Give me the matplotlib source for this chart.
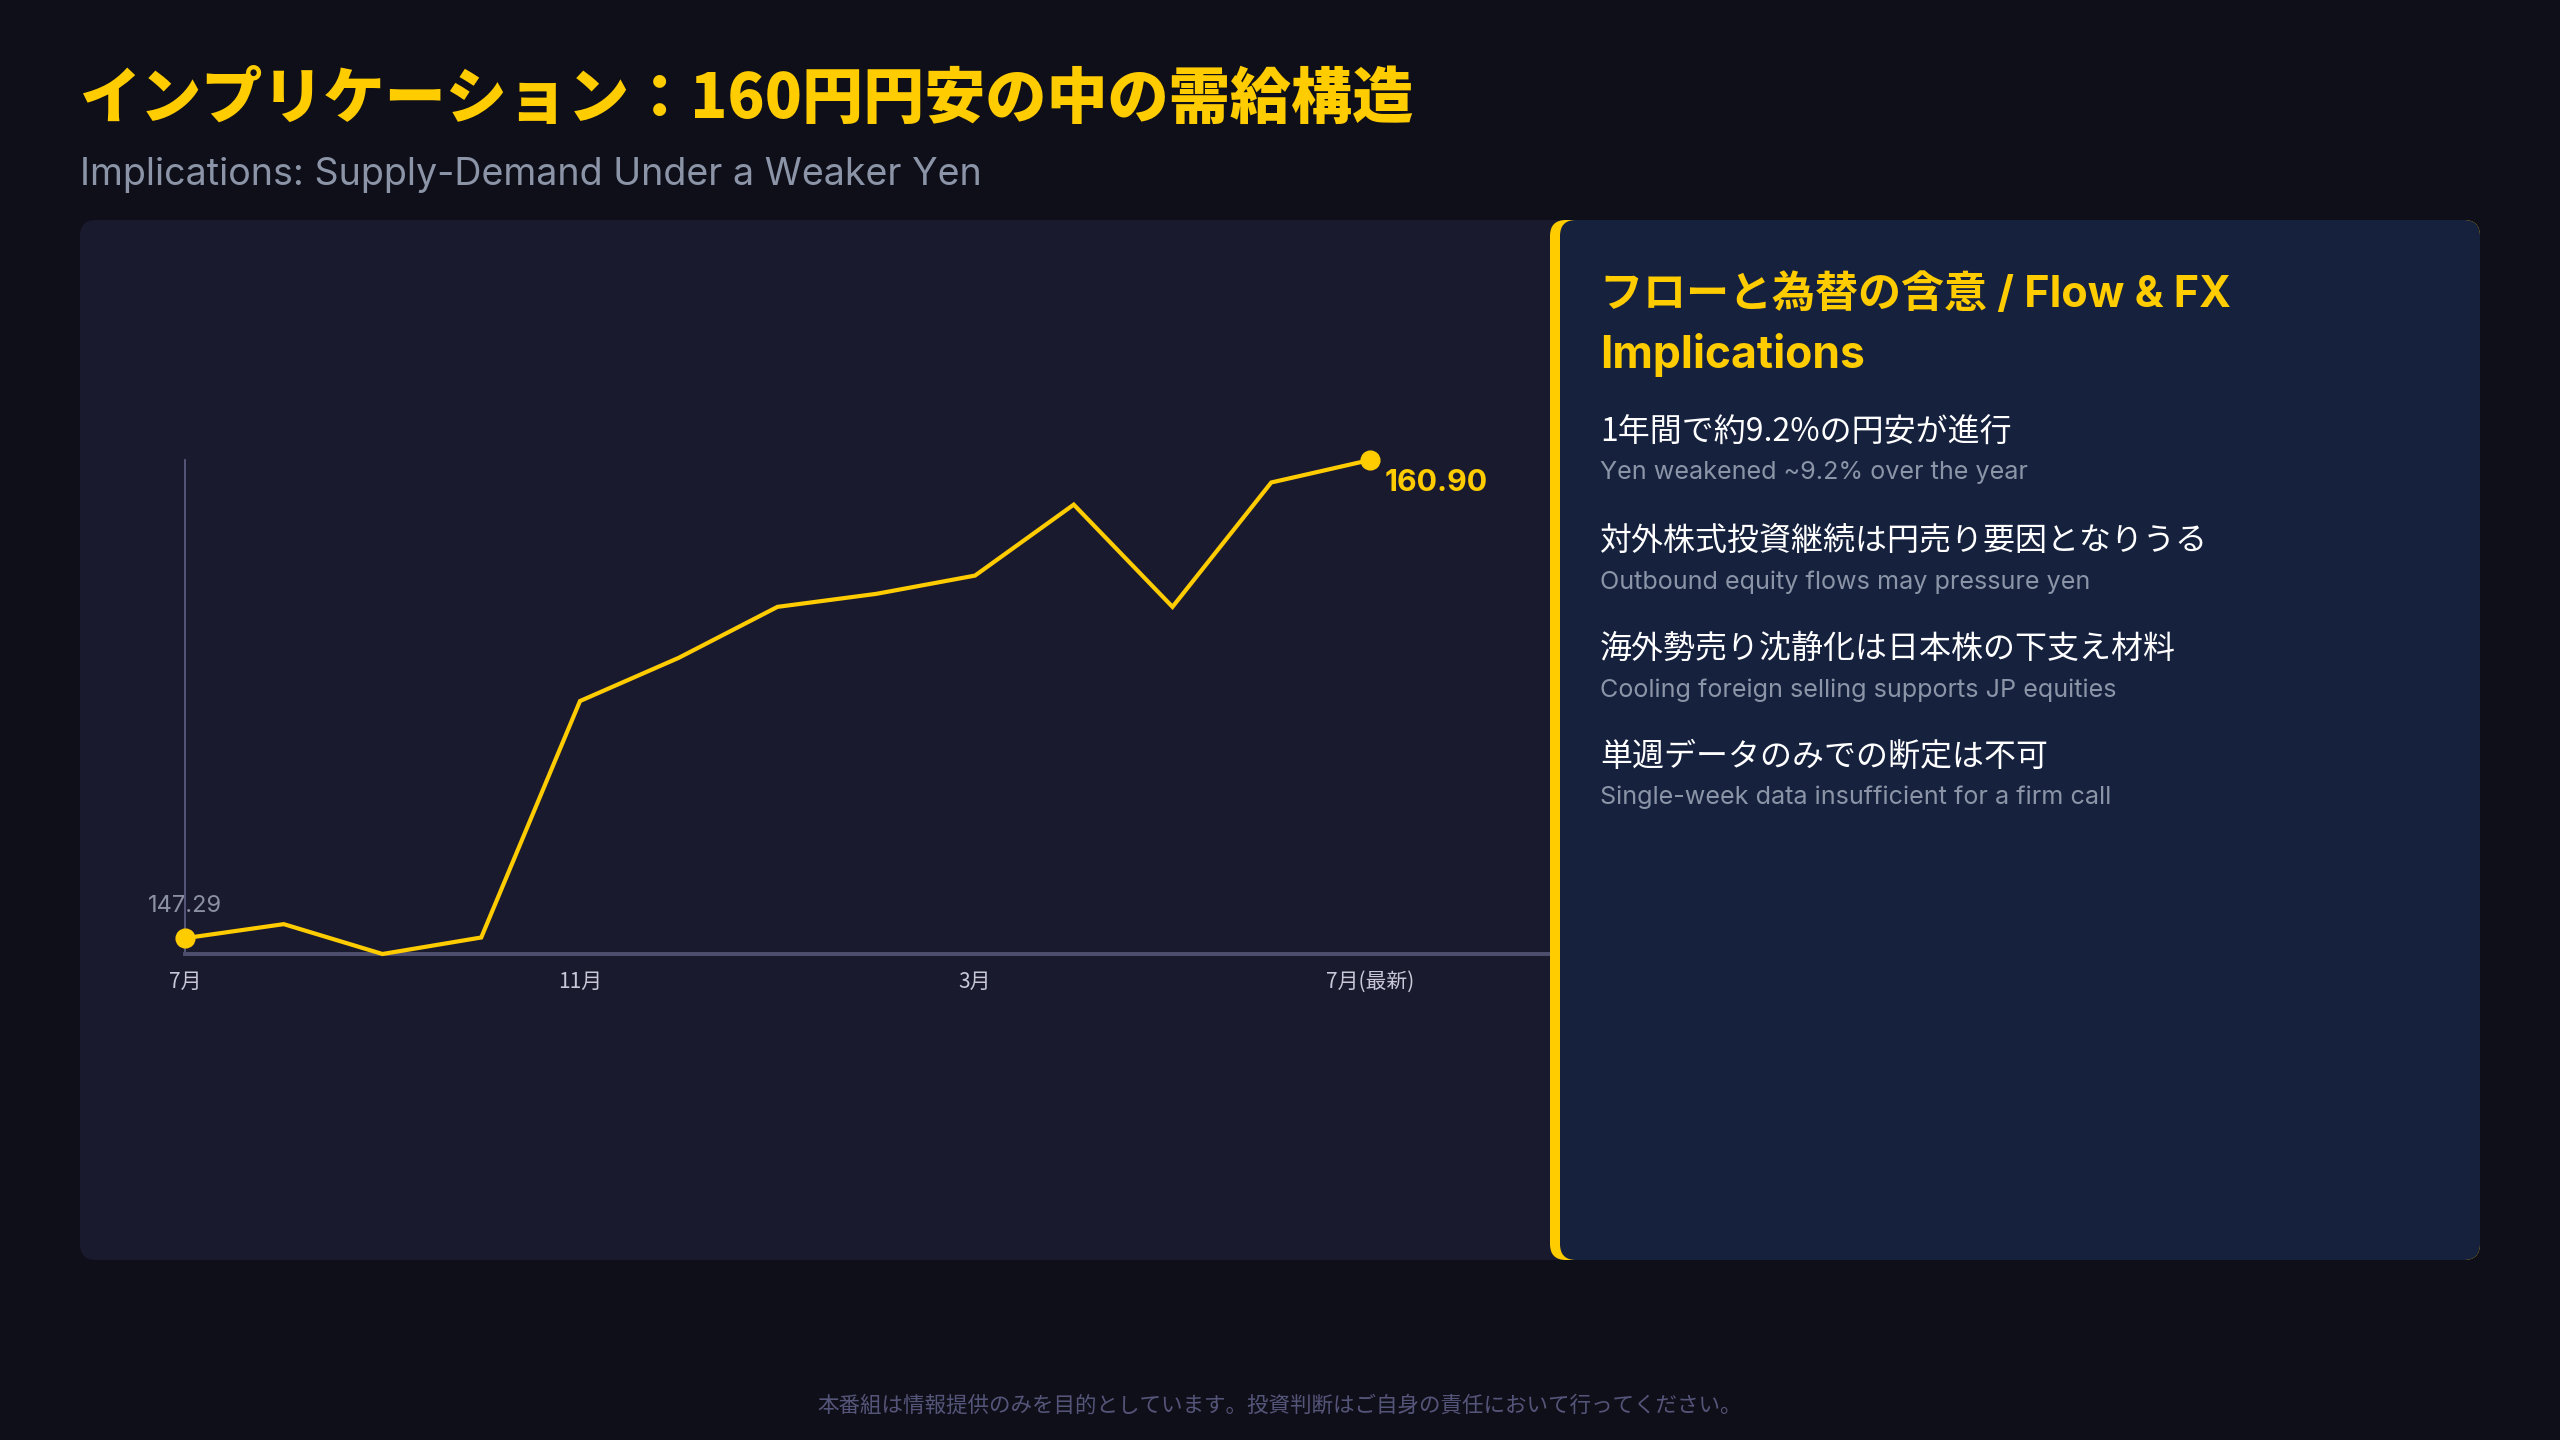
import matplotlib
matplotlib.use("Agg")
import matplotlib.pyplot as plt
from matplotlib.patches import FancyBboxPatch

# ---------------- data ----------------
months = ["7月", "", "", "", "11月", "", "", "", "3月", "", "", "", "7月(最新)"]
usdjpy = [147.29, 147.69, 146.84, 147.31, 154.04, 155.27, 156.72, 157.09,
          157.61, 159.63, 156.72, 160.26, 160.90]
start_label = "147.29"
end_label = "160.90"

title = "インプリケーション：160円円安の中の需給構造"
subtitle = "Implications: Supply-Demand Under a Weaker Yen"
panel_title_1 = "フローと為替の含意 / Flow & FX"
panel_title_2 = "Implications"
points_jp = ["1年間で約9.2%の円安が進行",
             "対外株式投資継続は円売り要因となりうる",
             "海外勢売り沈静化は日本株の下支え材料",
             "単週データのみでの断定は不可"]
points_en = ["Yen weakened ~9.2% over the year",
             "Outbound equity flows may pressure yen",
             "Cooling foreign selling supports JP equities",
             "Single-week data insufficient for a firm call"]
footer = "本番組は情報提供のみを目的としています。投資判断はご自身の責任において行ってください。"

# ---------------- style ----------------
plt.rcParams['font.family'] = ['Noto Sans CJK JP', 'DejaVu Sans']
LATIN = ['Inter', 'Noto Sans CJK JP', 'DejaVu Sans']
BG = "#0f0f1a"
PANEL = "#1a1a2e"
RPANEL = "#16213e"
YELLOW = "#ffcc00"
W, H = 2560, 1440

fig = plt.figure(figsize=(25.6, 14.4), dpi=100)
fig.patch.set_facecolor(BG)

# background axes in pixel coordinates
bg = fig.add_axes([0, 0, 1, 1], zorder=0)
bg.set_xlim(0, W)
bg.set_ylim(H, 0)
bg.axis("off")

# chart panel
bg.add_patch(FancyBboxPatch((80, 220), 1500, 1040,
                            boxstyle="round,pad=0,rounding_size=16",
                            facecolor=PANEL, edgecolor="none"))

bg.text(80, 100, title, fontsize=44, fontweight="black", color=YELLOW,
        ha="left", va="center")
bg.text(80, 175, subtitle, fontsize=27.1, color="#8b95a7", family=LATIN,
        ha="left", va="center")
bg.text(1280, 1406, footer, fontsize=15.5, color="#55557a",
        ha="center", va="center")

# ---------------- line chart ----------------
x0_px, x_end_px, x_last_px = 185, 1550, 1370
y_top_px, y_bot_px = 460, 954
n = len(usdjpy)
ax = fig.add_axes([x0_px / W, 1 - y_bot_px / H,
                   (x_end_px - x0_px) / W, (y_bot_px - y_top_px) / H], zorder=1)
ax.patch.set_alpha(0)
step_px = (x_last_px - x0_px) / (n - 1)
ax.set_xlim(0, (x_end_px - x0_px) / step_px)
ax.set_ylim(min(usdjpy), max(usdjpy))
xs = list(range(n))
ax.plot(xs, usdjpy, color=YELLOW, lw=3.0, solid_joinstyle="miter",
        marker="o", markevery=[0, n - 1], markersize=13.5, clip_on=False,
        zorder=3)

for s in ("top", "right"):
    ax.spines[s].set_visible(False)
ax.spines["left"].set_color("#5a5a7e")
ax.spines["left"].set_linewidth(1.3)
ax.spines["bottom"].set_color("#4e4e6e")
ax.spines["bottom"].set_linewidth(2.8)
ax.set_yticks([])
tick_idx = [i for i, m in enumerate(months) if m]
ax.set_xticks(tick_idx)
ax.set_xticklabels([months[i] for i in tick_idx], fontsize=15, color="#c8c8d8")
ax.tick_params(axis="x", length=0, pad=12)

ax.annotate(start_label, (0, usdjpy[0]), xytext=(0, 32), textcoords="offset pixels",
            ha="center", va="center", fontsize=17, color="#8b90a3", family=LATIN,
            annotation_clip=False)
ax.annotate(end_label, (n - 1, usdjpy[-1]), xytext=(15, -23), textcoords="offset pixels",
            ha="left", va="center", fontsize=21.8, fontweight="bold", color=YELLOW,
            family=LATIN, annotation_clip=False)

# ---------------- right panel ----------------
top = fig.add_axes([0, 0, 1, 1], zorder=2)
top.set_xlim(0, W)
top.set_ylim(H, 0)
top.axis("off")
top.patch.set_alpha(0)
top.add_patch(FancyBboxPatch((1550, 220), 930, 1040,
                             boxstyle="round,pad=0,rounding_size=16",
                             facecolor=YELLOW, edgecolor="none"))
top.add_patch(FancyBboxPatch((1560, 220), 920, 1040,
                             boxstyle="round,pad=0,rounding_size=16",
                             facecolor=RPANEL, edgecolor="none"))

top.text(1600, 295, panel_title_1, fontsize=31, fontweight="bold", color=YELLOW,
         family=LATIN, ha="left", va="center")
top.text(1600, 355, panel_title_2, fontsize=32, fontweight="bold", color=YELLOW,
         family=LATIN, ha="left", va="center")

head_y = [433, 541, 649, 757]
sub_y = [473, 582, 690, 797]
for jp, en, hy, sy in zip(points_jp, points_en, head_y, sub_y):
    top.text(1600, hy, jp, fontsize=23, color="#ffffff", ha="left", va="center")
    top.text(1600, sy, en, fontsize=18.1, color="#8b95a7", family=LATIN,
             ha="left", va="center")

fig.savefig("out.png", dpi=100, facecolor=BG)
